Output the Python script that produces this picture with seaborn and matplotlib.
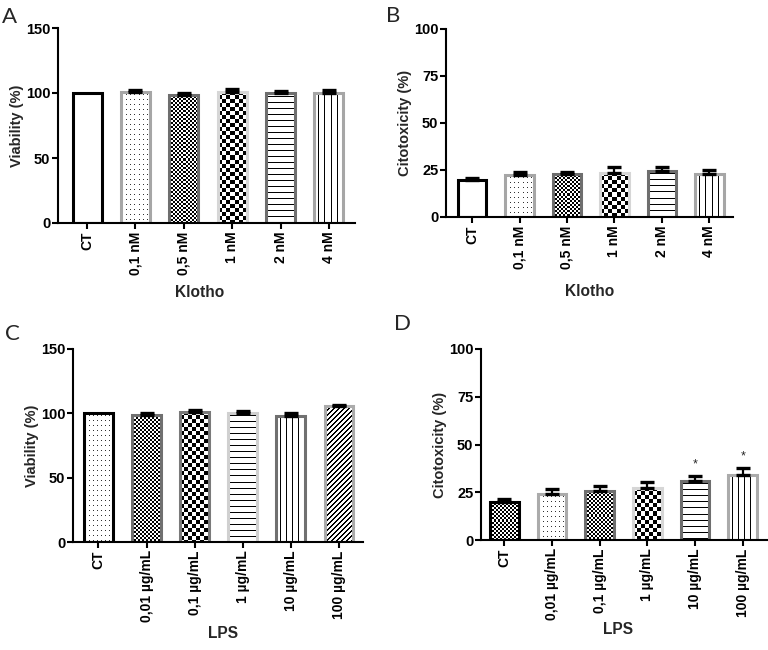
# Klotho / LPS 처리에 따른 세포 생존율·세포독성 막대그래프 (GraphPad 스타일 패턴 재현)

import numpy as np
import matplotlib
matplotlib.use("Agg")
import matplotlib.pyplot as plt
import seaborn as sns

KLOTHO = ["CT", "0,1 nM", "0,5 nM", "1 nM", "2 nM", "4 nM"]
LPS = ["CT", "0,01 µg/mL", "0,1 µg/mL", "1 µg/mL", "10 µg/mL", "100 µg/mL"]

# A: Klotho 생존율
A_MEAN = [100, 100.5, 98.5, 101, 99.7, 100.2]
A_SEM = [0, 1.8, 1.7, 1.8, 1.5, 1.8]
# B: Klotho 세포독성
B_MEAN = [19.7, 22.2, 23.0, 23.6, 24.5, 22.9]
B_SEM = [1.2, 1.6, 0.9, 3.0, 2.1, 1.9]
# C: LPS 생존율
C_MEAN = [100, 98.7, 101.3, 100.5, 98.2, 105.4]
C_SEM = [0, 1.5, 1.5, 1.0, 1.8, 1.0]
# D: LPS 세포독성 (* 유의)
D_MEAN = [20.1, 23.9, 25.7, 27.4, 31.0, 34.2]
D_SEM = [1.2, 2.6, 2.7, 2.8, 2.6, 3.3]
D_STARS = ["", "", "", "", "*", "*"]

W, H = 768, 650

sns.set_style("ticks")
plt.rcParams["font.family"] = ["Liberation Sans", "DejaVu Sans"]
plt.rcParams["font.weight"] = "bold"
plt.rcParams["axes.labelweight"] = "bold"
plt.rcParams["font.size"] = 10.5
plt.rcParams["axes.linewidth"] = 1.5
plt.rcParams["axes.edgecolor"] = "black"
plt.rcParams["xtick.color"] = "black"
plt.rcParams["ytick.color"] = "black"

# 막대 내부 무늬 (픽셀 단위 격자)
PATTERNS = {
    "dots": lambda i, j: 0.8 * ((i % 5 == 2) & (j % 4 == 1)),
    "fine": lambda i, j: ((i // 2 + j // 2) % 2).astype(float),
    "check": lambda i, j: ((i // 4 + j // 4) % 2).astype(float),
    "hlines": lambda i, j: (i % 6 == 3).astype(float),
    "vlines": lambda i, j: (j % 6 == 4).astype(float),
    "diag": lambda i, j: ((i + j) % 5 < 2).astype(float),
}

# 막대 테두리색·무늬 (스타일)
KLOTHO_EDGE = ["#000000", "#a6a6a6", "#6e6e6e", "#d6d6d6", "#6e6e6e", "#a6a6a6"]
KLOTHO_FILL = ["none", "dots", "fine", "check", "hlines", "vlines"]
C_EDGE = ["#000000", "#707070", "#7a7a7a", "#d0d0d0", "#707070", "#ababab"]
C_FILL = ["dots", "fine", "check", "hlines", "vlines", "diag"]
D_EDGE = ["#000000", "#ababab", "#707070", "#d6d6d6", "#6e6e6e", "#ababab"]
D_FILL = ["fine", "dots", "fine", "check", "hlines", "vlines"]


def px_rect(l, t, r, b):
    return [l / W, (H - b) / H, (r - l) / W, (b - t) / H]


def fill_pattern(ax, bar, kind):
    if kind == "none":
        return
    bb = bar.get_window_extent()
    i, j = np.indices((int(round(bb.height)), int(round(bb.width))))
    x0 = bar.get_x()
    ax.imshow(PATTERNS[kind](i, j), cmap="gray_r", vmin=0, vmax=1, origin="upper",
              extent=(x0, x0 + bar.get_width(), 0, bar.get_height()), aspect="auto",
              interpolation="nearest", clip_path=bar, zorder=bar.get_zorder() - 0.5)


def panel(fig, rect, xlim, cats, mean, sem, edges, fills, ymax, ystep,
          ylabel, xlabel, xlab_xy, letter, letter_xy, stars=None):
    ax = fig.add_axes(px_rect(*rect))
    sns.barplot(x=cats, y=mean, ax=ax, color="white", width=0.6, errorbar=None)
    ax.set_xlim(*xlim)
    ax.set_ylim(0, ymax)
    ax.set_yticks(np.arange(0, ymax + 1, ystep))
    sns.despine(ax=ax)

    for bar, ec, kind in zip(ax.patches, edges, fills):
        bar.set_facecolor("none")
        bar.set_edgecolor(ec)
        bar.set_linewidth(2.2)
        fill_pattern(ax, bar, kind)

    # 위쪽 오차막대만 (GraphPad 방식), SEM 0 인 대조군은 생략
    idx = [k for k, e in enumerate(sem) if e > 0]
    ax.errorbar(idx, [mean[k] for k in idx], yerr=[np.zeros(len(idx)), [sem[k] for k in idx]],
                fmt="none", ecolor="black", elinewidth=1.6, capsize=4.8, capthick=2.4, zorder=3)

    if stars:
        for k, s in enumerate(stars):
            if s:
                ax.annotate(s, (k, mean[k] + sem[k]), xytext=(0, 4), textcoords="offset points",
                            ha="center", va="bottom", fontsize=9, fontweight="normal")

    ax.tick_params(axis="y", length=4, width=1.5, pad=1.5, labelsize=10.5)
    ax.tick_params(axis="x", length=4, width=1.5, pad=2, labelsize=10)
    ax.set_xticks(range(len(cats)))
    ax.set_xticklabels(cats, rotation=90)
    ax.set_ylabel(ylabel, fontsize=10.5, labelpad=1.5)
    ax.set_xlabel(xlabel, fontsize=11.2)
    ax.xaxis.set_label_coords(*xlab_xy)
    fig.text(letter_xy[0] / W, 1 - letter_xy[1] / H, letter, fontsize=16,
             fontweight="normal", family=["Lato", "DejaVu Sans"], va="baseline")
    return ax


fig = plt.figure(figsize=(W / 100, H / 100), dpi=100)

panel(fig, (58, 28, 355, 223), (-0.6, 5.54), KLOTHO, A_MEAN, A_SEM, KLOTHO_EDGE, KLOTHO_FILL,
      150, 50, "Viability (%)", "Klotho", (0.478, -0.316), "A", (2, 23))
panel(fig, (446, 29, 733, 217), (-0.55, 5.5), KLOTHO, B_MEAN, B_SEM, KLOTHO_EDGE, KLOTHO_FILL,
      100, 25, "Citotoxicity (%)", "Klotho", (0.502, -0.359), "B", (386, 22))
panel(fig, (73, 349, 363, 542), (-0.53, 5.5), LPS, C_MEAN, C_SEM, C_EDGE, C_FILL,
      150, 50, "Viability (%)", "LPS", (0.516, -0.433), "C", (5, 340))
panel(fig, (481, 349, 768, 540), (-0.49, 5.53), LPS, D_MEAN, D_SEM, D_EDGE, D_FILL,
      100, 25, "Citotoxicity (%)", "LPS", (0.477, -0.427), "D", (394, 330), stars=D_STARS)

fig.savefig("out.png", dpi=100)
plt.close(fig)
